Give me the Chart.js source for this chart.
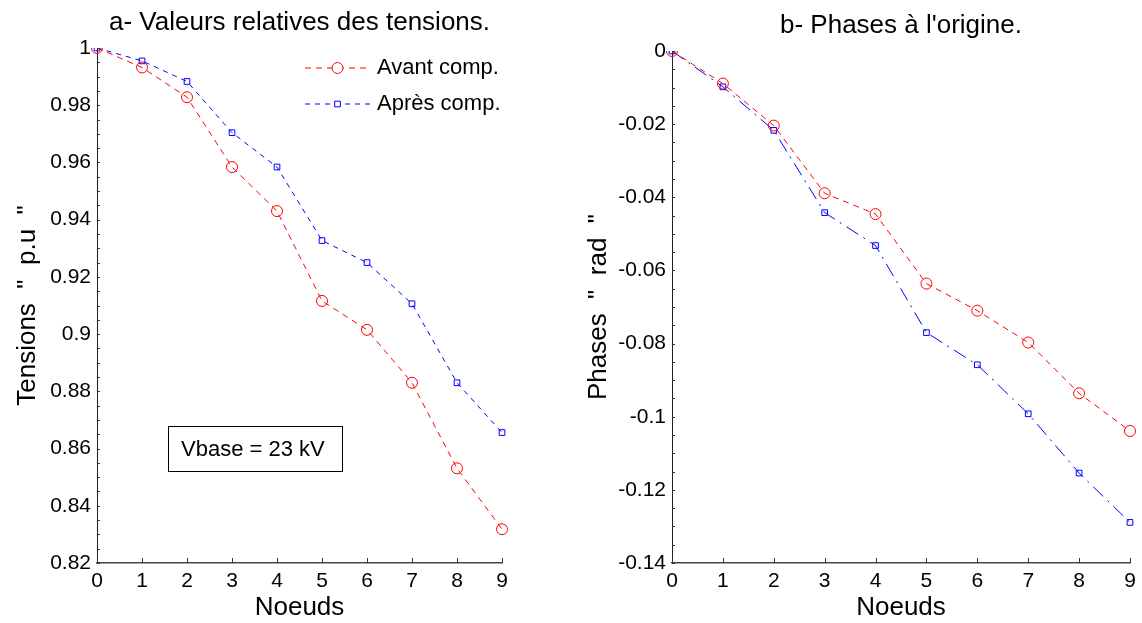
<!DOCTYPE html>
<html>
<head>
<meta charset="utf-8">
<script src="https://cdn.jsdelivr.net/npm/chart.js@4"></script>
<style>
  html, body { margin: 0; padding: 0; background: #fff; }
  .panel { position: absolute; top: 0; width: 571px; height: 623px; }
</style>
</head>
<body>
<div class="panel" style="left:0"><canvas id="chartA" width="571" height="623"></canvas></div>
<div class="panel" style="left:571px"><canvas id="chartB" width="571" height="623"></canvas></div>
<script>
// données
const noeuds = [0, 1, 2, 3, 4, 5, 6, 7, 8, 9];
const tensionAvant = [1.0, 0.9932, 0.9828, 0.9584, 0.9430, 0.9116, 0.9015, 0.8830, 0.8531, 0.8318];
const tensionApres = [1.0, 0.9955, 0.9883, 0.9704, 0.9584, 0.9327, 0.9250, 0.9106, 0.8830, 0.8656];
const phaseAvant = [0, -0.0089, -0.0204, -0.0389, -0.0446, -0.0636, -0.0710, -0.0797, -0.0936, -0.1039];
const phaseApres = [0, -0.0098, -0.0217, -0.0442, -0.0532, -0.0770, -0.0858, -0.0992, -0.1154, -0.1289];
const legendLabels = ["Avant comp.", "Après comp."];

const FONT = "'Liberation Sans', Arial, Helvetica, sans-serif";

// petits traits vers l'intérieur, comme sous Matlab
const innerTicks = {
  id: "innerTicks",
  afterDatasetsDraw(chart, args, opts) {
    const { ctx, chartArea, scales } = chart;
    const x = scales.x, y = scales.y;
    ctx.save();
    ctx.strokeStyle = "#333";
    ctx.lineWidth = 1;
    ctx.beginPath();
    x.ticks.forEach((t, i) => {
      const px = Math.round(x.getPixelForTick(i)) + 0.5;
      ctx.moveTo(px, chartArea.bottom);
      ctx.lineTo(px, chartArea.bottom - 5);
    });
    const n = Math.round((y.max - y.min) / opts.minor);
    for (let k = 0; k <= n; k++) {
      const py = Math.round(y.getPixelForValue(y.min + k * opts.minor)) + 0.5;
      ctx.moveTo(chartArea.left, py);
      ctx.lineTo(chartArea.left + 3, py);
    }
    ctx.stroke();
    ctx.restore();
  }
};

// titre centré sur la zone de tracé
const plotTitle = {
  id: "plotTitle",
  afterDraw(chart, args, opts) {
    const { ctx, chartArea } = chart;
    ctx.save();
    ctx.fillStyle = "#000";
    ctx.font = "26px " + FONT;
    ctx.textAlign = "center";
    ctx.textBaseline = "alphabetic";
    ctx.fillText(opts.text, (chartArea.left + chartArea.right) / 2, opts.baseline);
    ctx.restore();
  }
};

// légende dans le cadre (sans bordure)
const insideLegend = {
  id: "insideLegend",
  afterDraw(chart, args, opts) {
    if (!opts.show) return;
    const ctx = chart.ctx;
    chart.data.datasets.forEach((ds, i) => {
      const yy = opts.y + i * opts.gap;
      ctx.save();
      ctx.strokeStyle = ds.borderColor;
      ctx.lineWidth = 1;
      ctx.setLineDash(ds.borderDash);
      ctx.beginPath();
      ctx.moveTo(opts.x, yy);
      ctx.lineTo(opts.x + opts.len, yy);
      ctx.stroke();
      ctx.setLineDash([]);
      const cx = opts.x + opts.len / 2;
      ctx.fillStyle = "#fff";
      ctx.beginPath();
      if (ds.pointStyle === "circle") {
        ctx.arc(cx, yy, ds.pointRadius, 0, Math.PI * 2);
      } else {
        const s = ds.pointRadius * Math.SQRT2 / 2;
        ctx.rect(cx - s, yy - s, 2 * s, 2 * s);
      }
      ctx.fill();
      ctx.stroke();
      ctx.fillStyle = "#000";
      ctx.font = "22px " + FONT;
      ctx.textBaseline = "middle";
      ctx.fillText(ds.label, opts.x + opts.len + 7, yy);
      ctx.restore();
    });
  }
};

// encadré Vbase
const noteBox = {
  id: "noteBox",
  afterDraw(chart, args, opts) {
    if (!opts.text) return;
    const ctx = chart.ctx;
    ctx.save();
    ctx.strokeStyle = "#000";
    ctx.lineWidth = 1;
    ctx.strokeRect(opts.x + 0.5, opts.y + 0.5, opts.w, opts.h);
    ctx.fillStyle = "#000";
    ctx.font = "22px " + FONT;
    ctx.textBaseline = "middle";
    ctx.fillText(opts.text, opts.x + 13, opts.y + opts.h / 2 + 1);
    ctx.restore();
  }
};

function fmt(v) {
  return String(parseFloat(Number(v).toFixed(4)));
}

function makeChart(id, cfg) {
  return new Chart(document.getElementById(id), {
    type: "line",
    data: {
      labels: noeuds,
      datasets: [
        {
          label: legendLabels[0],
          data: cfg.avant,
          borderColor: "#ff0000",
          borderWidth: 1,
          borderDash: [6, 5],
          pointStyle: "circle",
          pointRadius: 5.5,
          pointBorderWidth: 1,
          pointBackgroundColor: "rgba(0,0,0,0)",
          pointBorderColor: "#ff0000",
          tension: 0
        },
        {
          label: legendLabels[1],
          data: cfg.apres,
          borderColor: "#0000ff",
          borderWidth: 1,
          borderDash: cfg.blueDash,
          pointStyle: "rect",
          pointRadius: 4,
          pointBorderWidth: 1,
          pointBackgroundColor: "rgba(0,0,0,0)",
          pointBorderColor: "#0000ff",
          tension: 0
        }
      ]
    },
    options: {
      responsive: false,
      animation: false,
      layout: { padding: { left: 0, right: cfg.padRight, top: cfg.padTop, bottom: 0 } },
      plugins: {
        legend: { display: false },
        tooltip: { enabled: false },
        title: { display: false },
        plotTitle: { text: cfg.title, baseline: cfg.titleBaseline },
        innerTicks: { minor: cfg.minor },
        insideLegend: cfg.legend,
        noteBox: cfg.note
      },
      scales: {
        x: {
          offset: false,
          grid: { display: false, drawTicks: false },
          border: { display: true, color: "#444", width: 1.5 },
          ticks: { color: "#000", padding: 6, maxRotation: 0, font: { family: FONT, size: 21 } },
          title: {
            display: true, text: "Noeuds", color: "#000",
            font: { family: FONT, size: 26 }, padding: { top: 0, bottom: 0 }
          },
          afterFit(scale) { scale.height = 60; }
        },
        y: {
          min: cfg.min,
          max: cfg.max,
          grid: { display: false, drawTicks: false },
          border: { display: true, color: "#222", width: 1 },
          ticks: {
            stepSize: 0.02, color: "#000", padding: 6,
            font: { family: FONT, size: 21 },
            callback: (v) => fmt(v)
          },
          title: {
            display: true, text: cfg.yTitle, color: "#000",
            font: { family: FONT, size: 26 }, padding: { top: 12, bottom: 0 }
          },
          afterFit(scale) { scale.width = cfg.yWidth; }
        }
      }
    },
    plugins: [innerTicks, plotTitle, insideLegend, noteBox]
  });
}

makeChart("chartA", {
  title: "a- Valeurs relatives des tensions.",
  yTitle: 'Tensions  "  p.u  "',
  avant: tensionAvant,
  apres: tensionApres,
  min: 0.82, max: 1, minor: 0.005,
  blueDash: [5, 5],
  yWidth: 97, padRight: 69, padTop: 48,
  titleBaseline: 30,
  legend: { show: true, x: 305, y: 68, gap: 36, len: 65 },
  note: { text: "Vbase = 23 kV", x: 168, y: 426, w: 174, h: 45 }
});

makeChart("chartB", {
  title: "b- Phases à l'origine.",
  yTitle: 'Phases  "  rad  "',
  avant: phaseAvant,
  apres: phaseApres,
  min: -0.14, max: 0, minor: 0.005,
  blueDash: [14, 6, 2, 6],
  yWidth: 101, padRight: 12, padTop: 51,
  titleBaseline: 33,
  legend: { show: false },
  note: {}
});
</script>
</body>
</html>
